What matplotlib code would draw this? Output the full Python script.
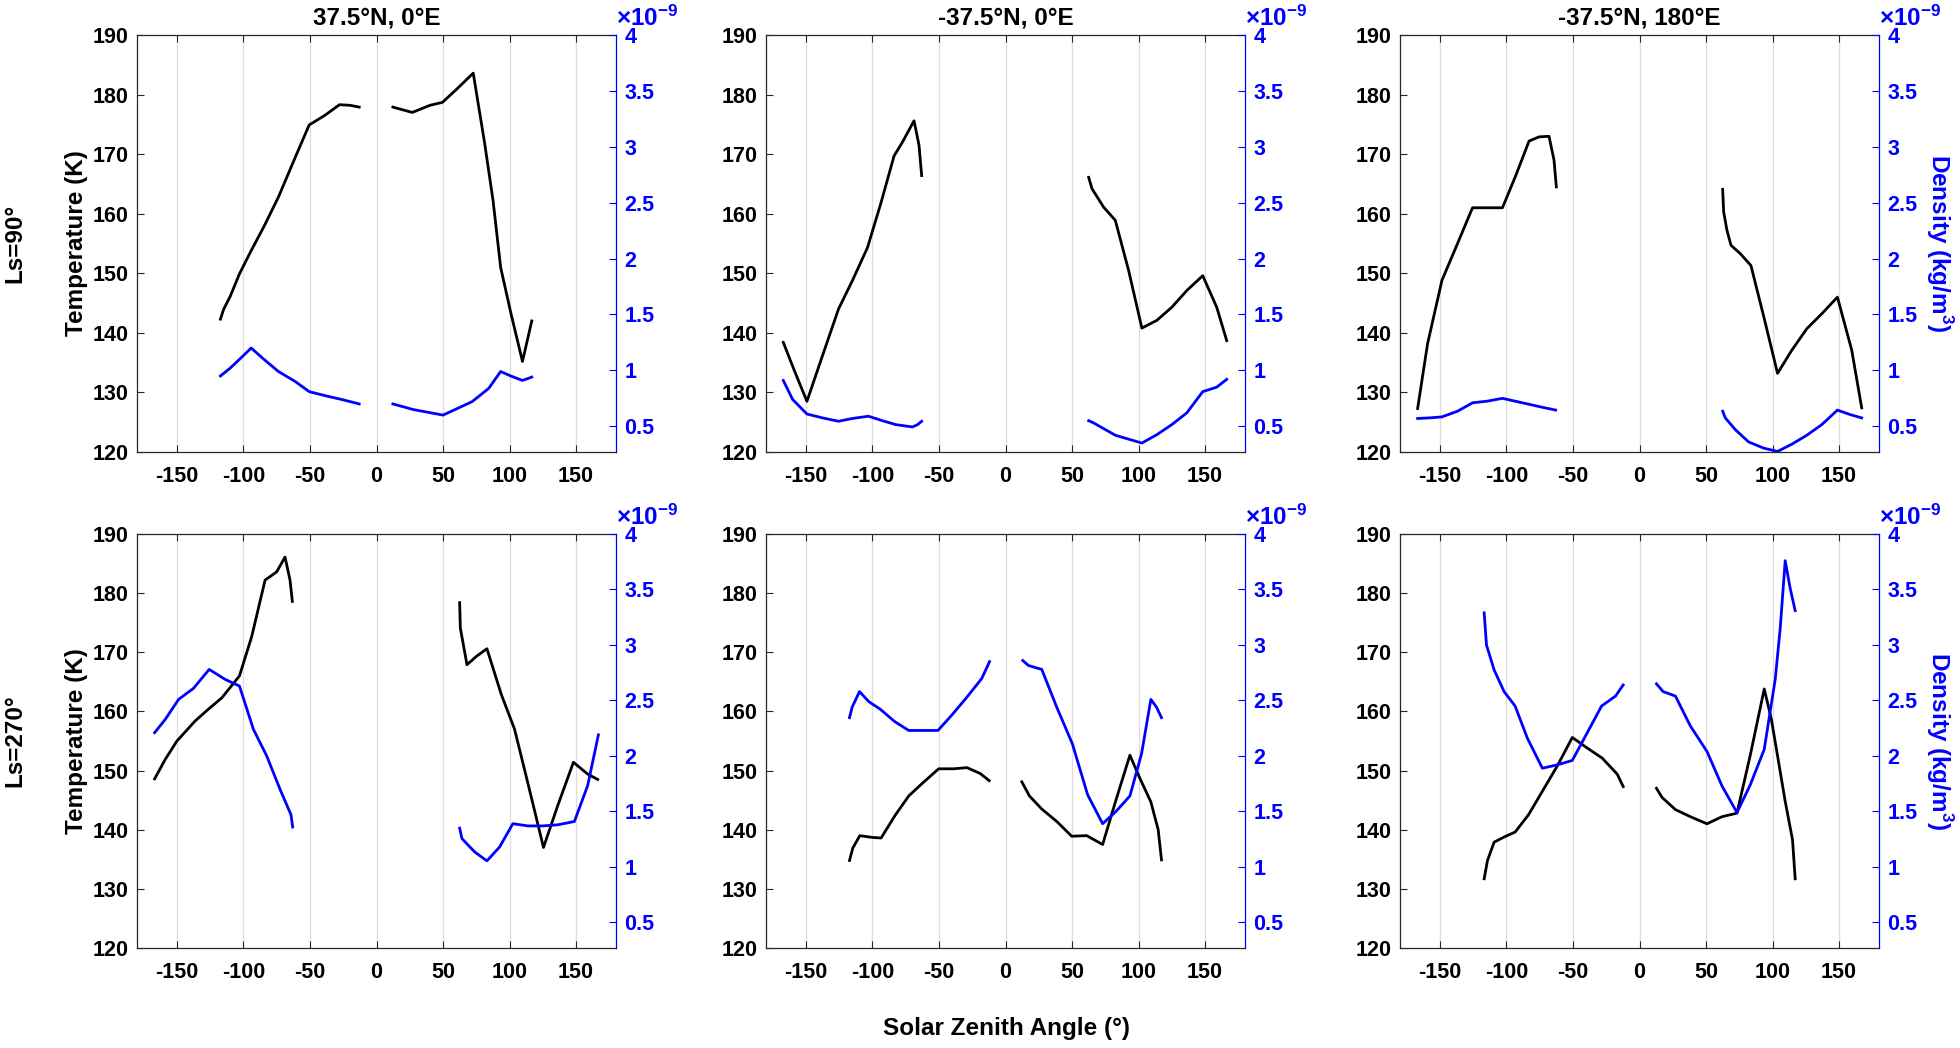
import matplotlib
matplotlib.use('Agg')
import matplotlib.pyplot as plt
import numpy as np
from matplotlib.ticker import FuncFormatter

plt.rcParams['font.family'] = ['Liberation Sans', 'DejaVu Sans']
plt.rcParams['font.weight'] = 'bold'
plt.rcParams['axes.unicode_minus'] = False
plt.rcParams['mathtext.fontset'] = 'custom'
plt.rcParams['mathtext.rm'] = 'Liberation Sans'
plt.rcParams['mathtext.bf'] = 'Liberation Sans:bold'

nan = np.nan

# ---------------- data (segments separated by nan) ----------------
# Panel A: Ls=90, 37.5N 0E
A_sza_T = [-117.3, -114.8, -110, -103, -94.2, -84.7, -73.7, -61, -50.6, -38.9, -27.8, -19.9, -13, nan,
           12.3, 26.9, 40.2, 49.6, 60.7, 72.7, 81.3, 87.6, 93.3, 100.9, 109.7, 116.7]
A_temp = [142.3, 144.0, 146.1, 149.9, 153.8, 157.8, 162.8, 169.5, 174.9, 176.5, 178.3, 178.2, 177.9, nan,
          177.9, 177.0, 178.2, 178.7, 181.0, 183.6, 171.8, 162.2, 151.0, 143.4, 135.2, 142.0]
A_sza_D = [-117.3, -110, -102, -94.2, -84.7, -73.7, -61, -50.6, -37.3, -26.2, -13, nan,
           12.3, 27.5, 50, 71.8, 81.3, 84.4, 93.3, 100.9, 109.7, 116.7]
A_dens = [0.95, 1.02, 1.11, 1.20, 1.10, 0.99, 0.90, 0.81, 0.77, 0.74, 0.70, nan,
          0.70, 0.65, 0.60, 0.72, 0.81, 0.84, 0.99, 0.95, 0.91, 0.94]

# Panel B: Ls=90, -37.5N 0E
B_sza_T = [-167, -158.75, -149.25, -137.5, -125.5, -115, -103.75, -93.75, -83.75, -77.5, -68.75, -65, -63, nan,
           62.5, 65, 73.75, 82.5, 92.5, 102.5, 113.75, 125, 136.25, 148.25, 158.75, 166.25]
B_temp = [138.4, 133.7, 128.5, 136.2, 144.0, 148.8, 154.3, 161.7, 169.7, 172.0, 175.6, 171.5, 166.4, nan,
          166.1, 164.2, 161.1, 158.9, 150.5, 140.8, 142.1, 144.3, 147.1, 149.6, 144.3, 138.7]
B_sza_D = [-167, -160, -149.25, -137.5, -125.5, -115, -103, -92.5, -82.5, -70, -66, -63, nan,
           62.5, 66.25, 82.5, 102.5, 113.75, 125, 136.25, 148.25, 158.75, 166.25]
B_dens = [0.91, 0.74, 0.61, 0.575, 0.545, 0.57, 0.59, 0.55, 0.515, 0.494, 0.515, 0.545, nan,
          0.55, 0.53, 0.42, 0.35, 0.425, 0.515, 0.62, 0.81, 0.85, 0.92]

# Panel C: Ls=90, -37.5N 180E
C_sza_T = [-166.75, -159.25, -148.5, -136.75, -125.5, -114.25, -103, -93, -83, -75.5, -68, -64.25, -62.5, nan,
           62.5, 63.25, 65.75, 68.75, 75.75, 83.75, 93.75, 103.75, 114.5, 125.75, 137, 148.75, 159.5, 167]
C_temp = [127.3, 138.2, 148.8, 155.0, 161.0, 161.0, 161.0, 166.4, 172.2, 172.9, 173.0, 169.0, 164.5, nan,
          164.1, 160.3, 157.2, 154.7, 153.3, 151.3, 142.4, 133.2, 137.1, 140.7, 143.2, 146.0, 137.1, 127.4]
C_sza_D = [-166.75, -158, -148.5, -136.75, -125.5, -114.25, -103, -91.75, -80.5, -73, -63, nan,
           62.5, 64.5, 72, 82, 93.25, 103.75, 114.5, 125.75, 137, 148.75, 158.25, 167]
C_dens = [0.57, 0.575, 0.584, 0.635, 0.71, 0.725, 0.75, 0.72, 0.69, 0.67, 0.645, nan,
          0.635, 0.575, 0.47, 0.36, 0.305, 0.275, 0.34, 0.42, 0.515, 0.645, 0.605, 0.575]

# Panel D: Ls=270, 37.5N 0E
D_sza_T = [-166.75, -158.75, -150, -136.25, -126.25, -116.25, -103, -93.75, -83.75, -75, -68.75, -65, -63.25, nan,
           62.5, 63, 68, 75, 83, 93.75, 103.75, 114.5, 125.5, 136.25, 148, 158.75, 166.25]
D_temp = [148.6, 151.9, 155.0, 158.4, 160.4, 162.3, 166.0, 172.7, 182.2, 183.6, 186.1, 182.2, 178.6, nan,
          178.4, 174.1, 167.9, 169.3, 170.6, 162.9, 157.0, 147.2, 137.0, 144.1, 151.4, 149.4, 148.5]
D_sza_D = [-166.75, -158.75, -148.75, -137.5, -125.75, -113.75, -103, -92.5, -82.5, -72.5, -64.25, -63, nan,
           62.5, 64.25, 73.75, 83, 92.5, 102.5, 113.75, 125, 136.25, 148.75, 158.75, 166.75]
D_dens = [2.21, 2.33, 2.51, 2.61, 2.78, 2.69, 2.63, 2.24, 2.0, 1.7, 1.47, 1.36, nan,
          1.35, 1.255, 1.136, 1.055, 1.18, 1.39, 1.37, 1.37, 1.38, 1.41, 1.735, 2.19]

# Panel E: Ls=270, -37.5N 0E
E_sza_T = [-117.25, -114.75, -109.5, -100.25, -93.5, -82.75, -72.75, -62.75, -50.25, -39, -29, -19, -12.25, nan,
           12.25, 18, 27.25, 38.5, 49.75, 61, 73, 83, 93.5, 101, 109.25, 114.75, 117.25]
E_temp = [134.8, 136.9, 139.0, 138.7, 138.6, 142.5, 145.7, 147.8, 150.3, 150.3, 150.5, 149.5, 148.3, nan,
          148.1, 145.7, 143.5, 141.4, 138.9, 139.0, 137.5, 145.0, 152.6, 148.7, 144.7, 140.0, 134.9]
E_sza_D = [-117.25, -115.25, -109.75, -102.75, -94, -83.25, -72.75, -61.5, -50.75, -40.25, -29, -17.75, -12, nan,
           13, 17.25, 27.25, 38.5, 50.25, 61.75, 73, 83, 93.5, 102.25, 109.25, 113.5, 117.25]
E_dens = [2.345, 2.44, 2.58, 2.49, 2.42, 2.31, 2.23, 2.23, 2.23, 2.37, 2.53, 2.70, 2.85, nan,
          2.86, 2.815, 2.78, 2.44, 2.11, 1.65, 1.39, 1.50, 1.64, 2.02, 2.51, 2.44, 2.345]

# Panel F: Ls=270, -37.5N 180E
F_sza_T = [-116.75, -114.25, -109.25, -100.5, -93.5, -83.5, -73, -61.75, -50.5, -40.5, -28, -16.75, -12.25, nan,
           12.75, 17, 27, 38.25, 50.75, 62, 73.25, 83.25, 93.75, 99, 104.5, 109.5, 115, 117]
F_temp = [131.7, 134.8, 137.9, 138.9, 139.6, 142.5, 146.5, 150.8, 155.6, 154.0, 152.1, 149.4, 147.3, nan,
          147.0, 145.45, 143.4, 142.2, 141.0, 142.2, 142.8, 152.6, 163.8, 158.8, 151.5, 144.8, 138.3, 131.7]
F_sza_D = [-116.75, -115, -109.25, -101.75, -93.5, -84.25, -73, -61.75, -50.5, -39.25, -28.5, -18, -12.25, nan,
           12.75, 17.75, 27, 38.25, 50.75, 62, 73.25, 83.25, 93.75, 102, 105.75, 109.5, 113.25, 117]
F_dens = [3.29, 3.0, 2.775, 2.58, 2.45, 2.16, 1.89, 1.92, 1.96, 2.21, 2.45, 2.54, 2.64, nan,
          2.65, 2.58, 2.54, 2.27, 2.04, 1.73, 1.49, 1.74, 2.06, 2.69, 3.15, 3.76, 3.51, 3.31]

titles = ['37.5°N, 0°E', '-37.5°N, 0°E', '-37.5°N, 180°E']
row_labels = ['Ls=90°', 'Ls=270°']
x_ticks = [-150, -100, -50, 0, 50, 100, 150]
t_ticks = [120, 130, 140, 150, 160, 170, 180, 190]
d_ticks = [0.5, 1, 1.5, 2, 2.5, 3, 3.5, 4]

panels = [[(A_sza_T, A_temp, A_sza_D, A_dens), (B_sza_T, B_temp, B_sza_D, B_dens), (C_sza_T, C_temp, C_sza_D, C_dens)],
          [(D_sza_T, D_temp, D_sza_D, D_dens), (E_sza_T, E_temp, E_sza_D, E_dens), (F_sza_T, F_temp, F_sza_D, F_dens)]]

# ---------------- layout ----------------
W, H = 1960, 1048
fig = plt.figure(figsize=(W / 100, H / 100), dpi=100)
fig.patch.set_facecolor('white')

col_left = [137, 766, 1400]
col_w = 479
rows = [(35, 452), (534, 948)]
axcol = '#262626'
TICK_FS = 15.5
LAB_FS = 17.5

fmt = FuncFormatter(lambda v, p: '%g' % v)

for r, (yt, yb) in enumerate(rows):
    for c in range(3):
        sT, T, sD, D = panels[r][c]
        ax = fig.add_axes([col_left[c] / W, 1 - yb / H, col_w / W, (yb - yt) / H])
        ax.plot(sT, T, color='black', lw=2.0, zorder=3)
        ax.set_xlim(-180, 180)
        ax.set_ylim(120, 190)
        ax.set_xticks(x_ticks)
        ax.set_yticks(t_ticks)
        ax.grid(axis='x', color='#dddddd', lw=0.9)
        ax.set_axisbelow(True)
        for s in ['left', 'top', 'bottom']:
            ax.spines[s].set_color(axcol)
            ax.spines[s].set_linewidth(0.9)
        ax.spines['right'].set_visible(False)
        ax.tick_params(direction='in', length=5, width=0.8, colors=axcol,
                       labelcolor='black', labelsize=TICK_FS, top=True, right=True)
        ax.tick_params(axis='x', pad=10)
        ax.tick_params(axis='y', pad=6)

        ax2 = ax.twinx()
        ax2.plot(sD, D, color='blue', lw=2.0, zorder=3)
        ax2.set_ylim(0.27, 4.0)
        ax2.set_yticks(d_ticks)
        ax2.yaxis.set_major_formatter(fmt)
        for s in ['left', 'top', 'bottom']:
            ax2.spines[s].set_visible(False)
        ax2.spines['right'].set_color('blue')
        ax2.spines['right'].set_linewidth(0.9)
        ax2.tick_params(axis='y', direction='in', length=5, width=0.8, colors='blue',
                        labelcolor='blue', labelsize=TICK_FS, pad=6)

        # multiplier text above the right axis
        fig.text((col_left[c] + col_w) / W, 1 - (yt - 17) / H,
                 r'$\times\mathbf{10^{-9}}$', color='blue', fontsize=17.5,
                 ha='left', va='center')

        if r == 0:
            fig.text((col_left[c] + col_w / 2) / W, 1 - 18 / H, titles[c],
                     fontsize=LAB_FS, fontweight='bold', ha='center', va='center')
        if c == 0:
            fig.text(76 / W, 1 - (yt + yb) / 2 / H, 'Temperature (K)', rotation=90,
                     fontsize=LAB_FS, fontweight='bold', ha='center', va='center')
            fig.text(15 / W, 1 - (yt + yb) / 2 / H, row_labels[r], rotation=90,
                     fontsize=LAB_FS, fontweight='bold', ha='center', va='center')
        if c == 2:
            fig.text(1939 / W, 1 - (yt + yb) / 2 / H, r'Density (kg/m$^\mathbf{3}$)', rotation=270,
                     fontsize=LAB_FS, fontweight='bold', color='blue', ha='center', va='center')

fig.text(1006 / W, 1 - 1028 / H, 'Solar Zenith Angle (°)', fontsize=LAB_FS,
         fontweight='bold', ha='center', va='center')

fig.savefig('out.png', dpi=100, facecolor='white')
